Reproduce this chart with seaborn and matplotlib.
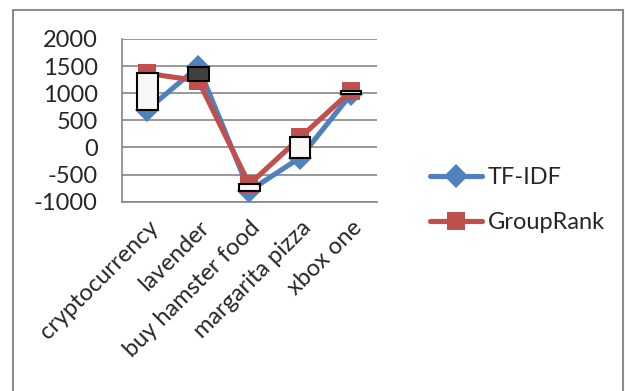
import matplotlib
matplotlib.use("Agg")
import matplotlib.pyplot as plt
from matplotlib.patches import Rectangle
import seaborn as sns
import pandas as pd

# ---------------- DATA ----------------
keywords = ["cryptocurrency", "lavender", "buy hamster food", "margarita pizza", "xbox one"]
tfidf = [700, 1490, -800, -185, 985]
grouprank = [1365, 1230, -680, 185, 1045]
y_ticks = [-1000, -500, 0, 500, 1000, 1500, 2000]
# --------------------------------------

BLUE = "#4f81bd"
RED = "#c0504d"
GRID = "#868686"
FS = 17

sns.set_style("white")
plt.rcParams["font.family"] = ["Lato", "DejaVu Sans"]

df = pd.DataFrame({"keyword": keywords, "TF-IDF": tfidf, "GroupRank": grouprank})

fig = plt.figure(figsize=(6.25, 3.91), dpi=100)
ax = fig.add_axes([0.1952, 0.4841, 0.4075, 0.4162])

# outer chart frame
fig.patches.append(Rectangle((13 / 625, -0.05), (623 - 13) / 625, 1.05 - 10 / 391,
                             transform=fig.transFigure, fill=False,
                             edgecolor="#8c8c8c", linewidth=1.5))

sns.lineplot(data=df, x="keyword", y="TF-IDF", ax=ax, color=BLUE, linewidth=3.7,
             marker="D", markersize=12, markeredgewidth=0, label="TF-IDF",
             sort=False, zorder=2)
sns.lineplot(data=df, x="keyword", y="GroupRank", ax=ax, color=RED, linewidth=3.7,
             marker="s", markersize=13, markeredgewidth=0, label="GroupRank",
             sort=False, zorder=3)

# up-down bars between the two series
diff = [g - t for g, t in zip(grouprank, tfidf)]
colors = ["#f8f8f8" if d > 0 else "#404040" for d in diff]
ax.bar(keywords, diff, bottom=tfidf, width=0.4, color=colors,
       edgecolor="black", linewidth=1.5, zorder=4)

ax.set_ylim(-1000, 2000)
ax.set_xlim(-0.5, len(keywords) - 0.5)
ax.set_yticks(y_ticks)
ax.set_yticklabels([str(v) for v in y_ticks], fontsize=FS)
ax.yaxis.grid(True, color=GRID, linewidth=1.2, zorder=0)
ax.set_axisbelow(True)

ax.set_xticks(range(len(keywords)))
ax.set_xticklabels(keywords, rotation=45, ha="right", va="top",
                   rotation_mode="anchor", fontsize=FS)
ax.tick_params(axis="x", length=0, pad=11)
ax.tick_params(axis="y", length=6.5, width=1.2, color=GRID, direction="out", pad=11)
# minor ticks between categories
ax.set_xticks([i - 0.5 for i in range(len(keywords) + 1)], minor=True)
ax.tick_params(axis="x", which="minor", length=5, width=1.2, color=GRID, direction="out")

ax.set_xlabel("")
ax.set_ylabel("")
for side in ["top", "right"]:
    ax.spines[side].set_visible(False)
for side in ["left", "bottom"]:
    ax.spines[side].set_color(GRID)
    ax.spines[side].set_linewidth(1.2)

leg = ax.legend(loc="center left", bbox_to_anchor=(1.125, 0.01), frameon=False,
                fontsize=FS, handlelength=2.2, labelspacing=1.0, handletextpad=0.25)

fig.savefig("out.png", dpi=100)
